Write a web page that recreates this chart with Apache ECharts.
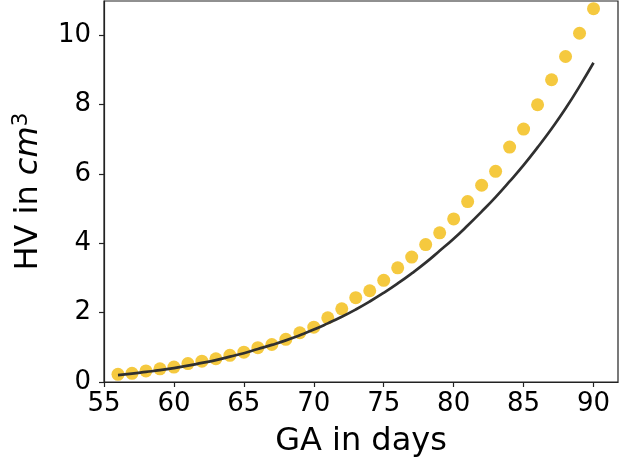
<!DOCTYPE html>
<html>
<head>
<meta charset="utf-8">
<script src="https://cdn.jsdelivr.net/npm/echarts@6/dist/echarts.min.js"></script>
<style>
html,body{margin:0;padding:0;background:#fff;}
#chart{width:623px;height:463px;}
</style>
</head>
<body>
<div id="chart"></div>
<script>
var days = [56,57,58,59,60,61,62,63,64,65,66,67,68,69,70,71,72,73,74,75,76,77,78,79,80,81,82,83,84,85,86,87,88,89,90];
var hvMeasured = [0.22,0.25,0.32,0.38,0.43,0.53,0.60,0.67,0.77,0.86,0.99,1.08,1.23,1.42,1.58,1.85,2.11,2.43,2.63,2.93,3.29,3.60,3.96,4.30,4.70,5.20,5.67,6.07,6.77,7.29,7.99,8.71,9.38,10.05,10.76];
var hvFit = [0.20,0.24,0.29,0.34,0.40,0.47,0.55,0.63,0.73,0.83,0.95,1.07,1.20,1.35,1.51,1.69,1.88,2.09,2.32,2.57,2.84,3.13,3.44,3.78,4.13,4.51,4.91,5.33,5.78,6.25,6.76,7.30,7.88,8.52,9.20];
var xTicks = [55,60,65,70,75,80,85,90];
var yTicks = [0,2,4,6,8,10];

var chart = echarts.init(document.getElementById('chart'), null, {renderer:'canvas'});
var font = 'DejaVu Sans';
var axisColor = '#222';
chart.setOption({
  animation:false,
  backgroundColor:'#fff',
  grid:{left:104,right:5,top:1,bottom:80,show:true,borderColor:axisColor,borderWidth:1.2,backgroundColor:'transparent'},
  xAxis:{
    type:'value', min:55, max:91.75, interval:5,
    name:'GA in days', nameLocation:'middle', nameGap:44,
    nameTextStyle:{fontFamily:font,fontSize:32,color:'#000'},
    axisLine:{show:true,lineStyle:{color:axisColor,width:1.2}},
    axisTick:{show:true,length:5,inside:false,lineStyle:{color:axisColor,width:1.2}},
    axisLabel:{fontFamily:font,fontSize:26,color:'#000',margin:9,showMaxLabel:false,
      formatter:function(v){return xTicks.indexOf(v)>=0?String(v):'';}},
    splitLine:{show:false}
  },
  yAxis:{
    type:'value', min:0, max:10.98, interval:2,
    name:'{n|HV in }{i|cm}{s|3}', nameLocation:'middle', nameGap:57,
    nameTextStyle:{fontFamily:font,fontSize:32,color:'#000',
      rich:{n:{fontFamily:font,fontSize:32,color:'#000'},
            i:{fontFamily:font,fontSize:32,fontStyle:'italic',color:'#000'},
            s:{fontFamily:font,fontSize:22,color:'#000',verticalAlign:'bottom',padding:[0,0,15,0]}}},
    axisLine:{show:true,lineStyle:{color:axisColor,width:1.2}},
    axisTick:{show:true,length:5,inside:false,lineStyle:{color:axisColor,width:1.2}},
    axisLabel:{fontFamily:font,fontSize:26,color:'#000',margin:13,showMaxLabel:false,
      formatter:function(v){return yTicks.indexOf(v)>=0?String(v):'';}},
    splitLine:{show:false}
  },
  series:[
    {type:'scatter', data:days.map(function(d,i){return [d,hvMeasured[i]];}),
     symbol:'circle', symbolSize:13, itemStyle:{color:'#F5C93F',opacity:1}, z:2},
    {type:'line', data:days.map(function(d,i){return [d,hvFit[i]];}),
     smooth:true, showSymbol:false, symbol:'none',
     lineStyle:{color:'#303030',width:2.7}, z:3}
  ]
});
</script>
</body>
</html>
